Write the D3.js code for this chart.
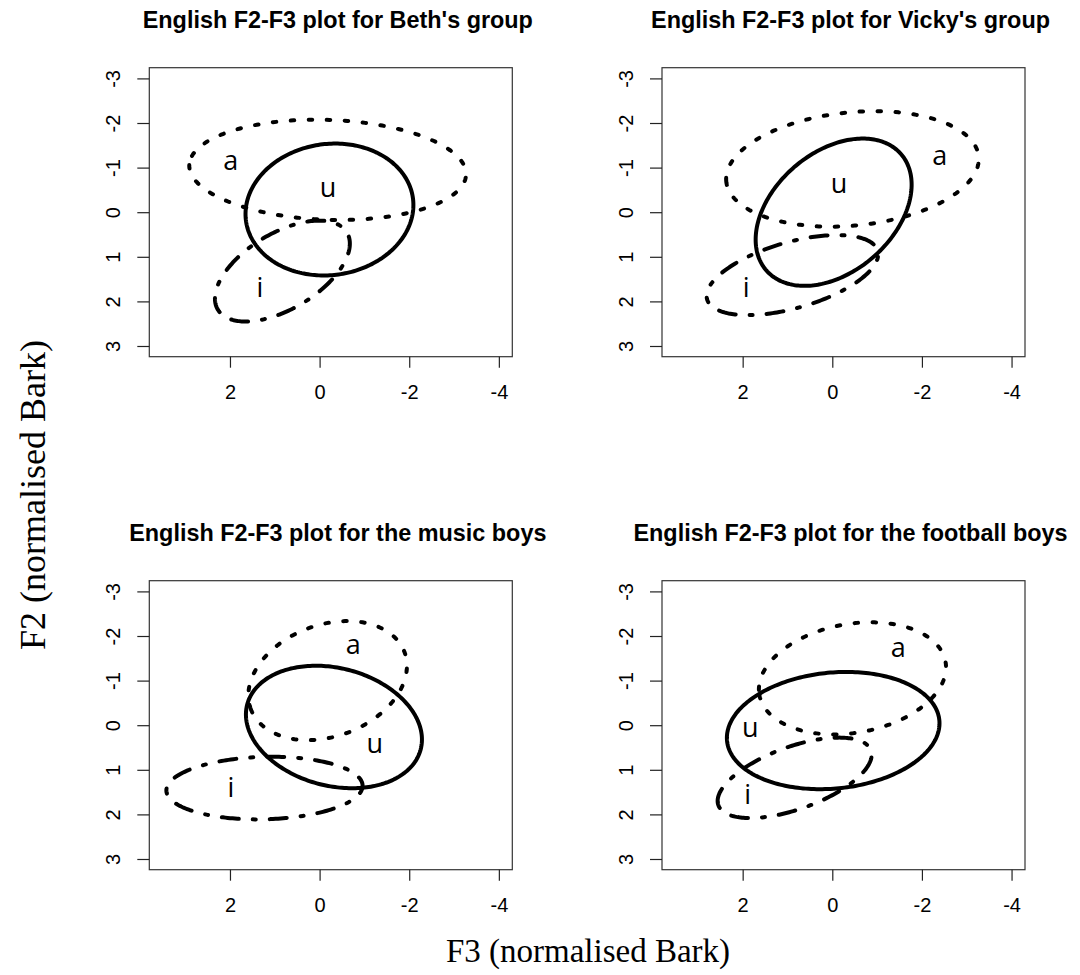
<!DOCTYPE html>
<html>
<head>
<meta charset="utf-8">
<script src="https://cdn.jsdelivr.net/npm/d3@7"></script>
<style>
  body { margin: 0; background: #fff; }
  svg { display: block; }
</style>
</head>
<body>
<div id="viz"></div>
<script>
var titles = [
  "English F2-F3 plot for Beth's group",
  "English F2-F3 plot for Vicky's group",
  "English F2-F3 plot for the music boys",
  "English F2-F3 plot for the football boys"
];
var vowels = ["a", "u", "i"];

// ellipse centres (F3, F2), per panel, vowel order a, u, i
var meanF3 = [[-0.18, -0.22, 0.83], [-0.45, -0.03, 0.89], [-0.18, -0.32, 1.23], [-0.45, -0.02, 0.84]];
var meanF2 = [[-0.95, -0.06, 1.32], [-0.97, 0.0, 1.41], [-1.0, 0.04, 1.41], [-1.05, 0.12, 1.18]];
var semiMajor = [[3.09, 1.88, 1.68], [2.83, 1.99, 1.98], [1.83, 2.0, 2.19], [2.11, 2.38, 1.81]];
var semiMinor = [[1.12, 1.47, 0.85], [1.27, 1.34, 0.74], [1.25, 1.32, 0.70], [1.22, 1.30, 0.70]];
var tiltDeg = [[-2, 8, 31], [5.7, 41, 16], [20.5, -14.6, 1.5], [10.2, 5.6, 19.9]];

// vowel label positions (F3, F2)
var labelF3 = [[1.98, -0.19, 1.33], [-2.40, -0.15, 1.92], [-0.75, -1.23, 1.98], [-1.47, 1.83, 1.89]];
var labelF2 = [[-1.10, -0.50, 1.74], [-1.23, -0.60, 1.74], [-1.77, 0.46, 1.45], [-1.69, 0.11, 1.60]];

var xTicks = [2, 0, -2, -4];
var yTicks = [-3, -2, -1, 0, 1, 2, 3];

var W = 1080, H = 975;
var box = { left: 149.3, top: 67.7, width: 363, height: 289 };
var step = { x: 512.7, y: 513 };

var dash = { a: "3.5 14.5", u: null, i: "3 14 17 14" };
var sans = "'Liberation Sans', Arial, sans-serif";
var serif = "'Liberation Serif', 'Times New Roman', serif";

var svg = d3
  .select("#viz")
  .append("svg")
  .attr("width", W)
  .attr("height", H)
  .style("font-family", sans);

svg.append("rect").attr("width", W).attr("height", H).attr("fill", "#fff");

var x = d3.scaleLinear().domain([3.8, -4.3]).range([0, box.width]);
var y = d3.scaleLinear().domain([-3.24, 3.24]).range([0, box.height]);

var line = d3
  .line()
  .x((d) => x(d[0]))
  .y((d) => y(d[1]))
  .curve(d3.curveLinearClosed);

function ellipsePoints(cx, cy, a, b, deg) {
  var th = (deg * Math.PI) / 180;
  return d3.range(0, 240).map((k) => {
    var t = (k / 240) * 2 * Math.PI;
    return [
      cx + a * Math.cos(t) * Math.cos(th) - b * Math.sin(t) * Math.sin(th),
      cy + a * Math.cos(t) * Math.sin(th) + b * Math.sin(t) * Math.cos(th),
    ];
  });
}

titles.forEach((title, p) => {
  var col = p % 2, row = Math.floor(p / 2);
  var g = svg
    .append("g")
    .attr(
      "transform",
      "translate(" + (box.left + col * step.x) + "," + (box.top + row * step.y) + ")"
    );

  g.append("text")
    .attr("x", box.width / 2 + 7)
    .attr("y", -40)
    .style("text-anchor", "middle")
    .style("font-weight", "bold")
    .style("font-size", "23.4px")
    .text(title);

  g.append("rect")
    .attr("width", box.width)
    .attr("height", box.height)
    .attr("fill", "none")
    .attr("stroke", "#333")
    .attr("stroke-width", 1.2);

  var xAxis = d3.axisBottom(x).tickValues(xTicks).tickSize(11).tickPadding(17).tickFormat((d) => String(d));
  var gx = g.append("g").attr("transform", "translate(0," + box.height + ")").call(xAxis);
  gx.select(".domain").remove();
  gx.selectAll("line").attr("stroke", "#222").attr("stroke-width", 1.2);
  gx.selectAll("text").style("font-size", "20px").style("font-family", sans).attr("fill", "#000");

  var yAxis = d3.axisLeft(y).tickValues(yTicks).tickSize(12).tickFormat((d) => String(d));
  var gy = g.append("g").call(yAxis);
  gy.select(".domain").remove();
  gy.selectAll("line").attr("stroke", "#222").attr("stroke-width", 1.2);
  gy.selectAll("text")
    .style("font-size", "20px")
    .style("font-family", sans)
    .attr("fill", "#000")
    .attr("x", null)
    .style("text-anchor", "middle")
    .attr("transform", "translate(-36,0) rotate(-90)")
    .attr("dy", "0.35em");

  vowels.forEach((v, j) => {
    g.append("path")
      .datum(ellipsePoints(meanF3[p][j], meanF2[p][j], semiMajor[p][j], semiMinor[p][j], tiltDeg[p][j]))
      .attr("d", line)
      .attr("fill", "none")
      .attr("stroke", "#000")
      .attr("stroke-width", 4)
      .attr("stroke-linecap", "round")
      .attr("stroke-dasharray", dash[v]);

    g.append("text")
      .attr("x", x(labelF3[p][j]))
      .attr("y", y(labelF2[p][j]))
      .attr("dy", "0.27em")
      .style("text-anchor", "middle")
      .style("font-family", "'Open Sans', sans-serif")
      .style("font-size", "27px")
      .text(v);
  });
});

svg
  .append("text")
  .attr("transform", "translate(45,495) rotate(-90)")
  .style("text-anchor", "middle")
  .style("font-family", serif)
  .style("font-size", "36px")
  .text("F2 (normalised Bark)");

svg
  .append("text")
  .attr("x", 588)
  .attr("y", 962)
  .style("text-anchor", "middle")
  .style("font-family", serif)
  .style("font-size", "33px")
  .text("F3 (normalised Bark)");
</script>
</body>
</html>
